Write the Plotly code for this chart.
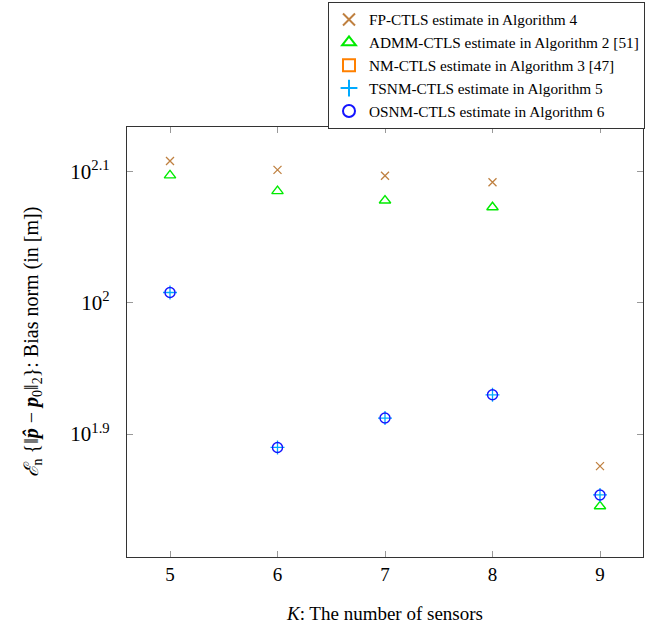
import plotly.graph_objects as go

K = [5, 6, 7, 8, 9]
fp_ctls = [128.2, 126.2, 124.9, 123.5, 75.1]
admm_ctls = [125.0, 121.6, 119.6, 118.2, 70.0]
nm_ctls = [None, None, None, None, None]
tsnm_ctls = [101.8, 77.6, 81.7, 85.1, 71.4]
osnm_ctls = [101.8, 77.6, 81.7, 85.1, 71.4]

ytick_vals = [10**1.9, 10**2.0, 10**2.1]
ytick_text = ["10<sup>1.9</sup>", "10<sup>2</sup>", "10<sup>2.1</sup>"]

serif = "Liberation Serif, Times New Roman, serif"

fig = go.Figure()
fig.add_trace(go.Scatter(x=K, y=fp_ctls, mode="markers", name="FP-CTLS estimate in Algorithm 4",
                         marker=dict(symbol="x-thin", size=8, line=dict(color="rgb(191,128,64)", width=1.3),
                                     color="rgb(191,128,64)")))
fig.add_trace(go.Scatter(x=K, y=admm_ctls, mode="markers", name="ADMM-CTLS estimate in Algorithm 2 [51]",
                         marker=dict(symbol="triangle-up-open", size=10, color="rgb(0,235,0)",
                                     line=dict(color="rgb(0,235,0)", width=1.4))))
fig.add_trace(go.Scatter(x=K, y=nm_ctls, mode="markers", name="NM-CTLS estimate in Algorithm 3 [47]",
                         marker=dict(symbol="square-open", size=10, color="rgb(255,128,0)",
                                     line=dict(color="rgb(255,128,0)", width=1.2))))
fig.add_trace(go.Scatter(x=K, y=tsnm_ctls, mode="markers", name="TSNM-CTLS estimate in Algorithm 5",
                         marker=dict(symbol="cross-thin", size=10, color="rgb(0,170,255)",
                                     line=dict(color="rgb(0,170,255)", width=1.3))))
fig.add_trace(go.Scatter(x=K, y=osnm_ctls, mode="markers", name="OSNM-CTLS estimate in Algorithm 6",
                         marker=dict(symbol="circle-open", size=10, color="rgb(20,20,255)",
                                     line=dict(color="rgb(20,20,255)", width=1.4))))

fig.update_layout(
    width=656, height=629,
    margin=dict(l=127, r=13, t=127, b=72, autoexpand=False),
    paper_bgcolor="white", plot_bgcolor="white",
    font=dict(family=serif, color="black"),
    showlegend=True,
    legend=dict(xref="container", yref="container", x=645/656, xanchor="right",
                y=1 - 2/629, yanchor="top",
                bgcolor="white", bordercolor="#333", borderwidth=1,
                font=dict(family=serif, size=15.3), tracegroupgap=0,
                itemsizing="constant", itemwidth=30),
    xaxis=dict(range=[4.6, 9.4], tickvals=K, ticktext=[str(k) for k in K],
               showgrid=False, zeroline=False, showline=True, linecolor="#333", linewidth=1.2,
               mirror="all", ticks="inside", ticklen=6, tickcolor="#999",
               tickfont=dict(family=serif, size=19),
               title=dict(text="<i>K</i>: The number of sensors", font=dict(family=serif, size=19), standoff=22)),
    yaxis=dict(type="log", range=[1.8065, 2.1337], tickvals=ytick_vals, ticktext=ytick_text,
               showgrid=False, zeroline=False, showline=True, linecolor="#333", linewidth=1.2,
               mirror="all", ticks="inside", ticklen=6, tickcolor="#999",
               tickfont=dict(family=serif, size=21), ticklabelstandoff=12,
               title=dict(text="<i>ℰ</i><sub>n</sub> {‖<b><i>p̂</i></b> − <b><i>p</i></b><sub>0</sub>‖<sub>2</sub>}: Bias norm (in [m])",
                          font=dict(family=serif, size=20), standoff=26)),
)

fig.write_html("out.html")
